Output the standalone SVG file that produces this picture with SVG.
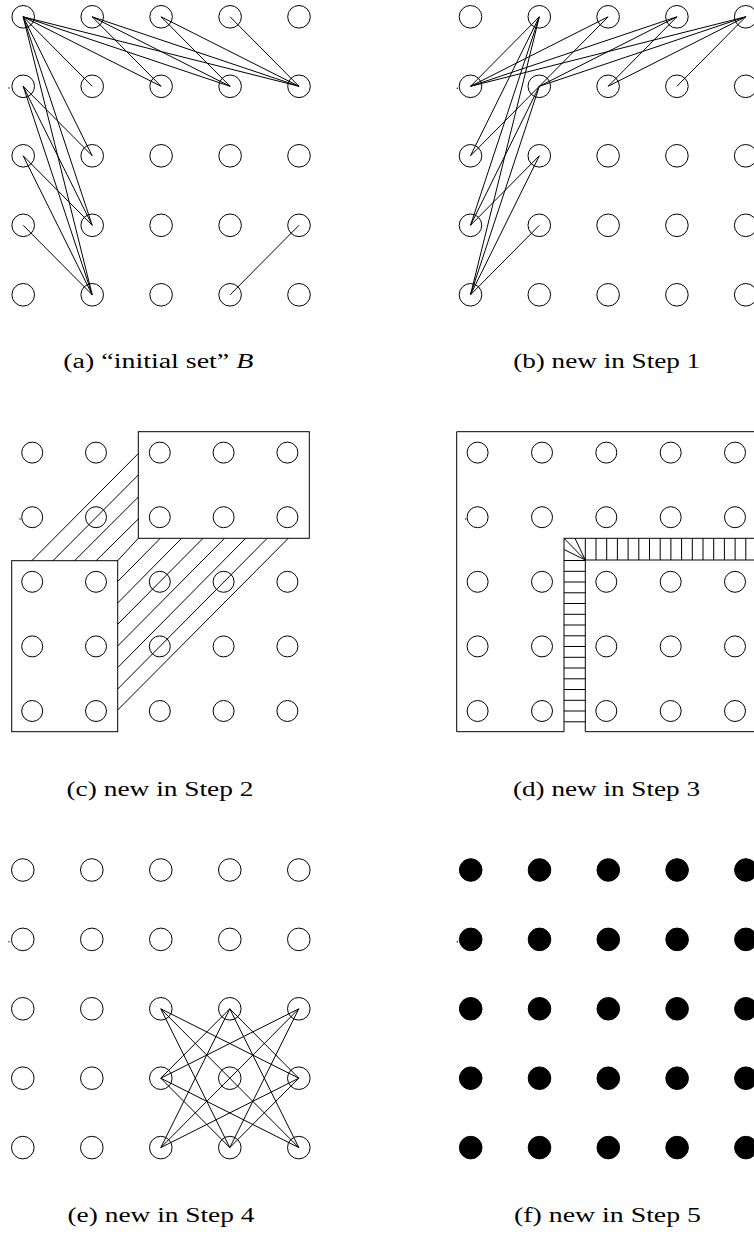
<svg xmlns="http://www.w3.org/2000/svg" width="754" height="1234" viewBox="0 0 754 1234">
<style>
.n{fill:none;stroke:#000;stroke-width:1}
.f{fill:#000;stroke:#000;stroke-width:1}
.e line,.e path,.e rect{stroke:#000;stroke-width:1;fill:none}
.cap{font-family:"Liberation Serif","Times New Roman",serif;font-size:20px;fill:#000}
</style>
<rect width="754" height="1234" fill="#fff"/>
<!-- connectors -->
<g id="connectors" class="e">
 <g id="conn-a">
  <line x1="23.2" y1="16.8" x2="92.2" y2="86.3"/>
  <line x1="23.2" y1="16.8" x2="161.1" y2="86.3"/>
  <line x1="23.2" y1="16.8" x2="230.1" y2="86.3"/>
  <line x1="23.2" y1="16.8" x2="299" y2="86.3"/>
  <line x1="92.2" y1="16.8" x2="161.1" y2="86.3"/>
  <line x1="92.2" y1="16.8" x2="230.1" y2="86.3"/>
  <line x1="92.2" y1="16.8" x2="299" y2="86.3"/>
  <line x1="161.1" y1="16.8" x2="230.1" y2="86.3"/>
  <line x1="161.1" y1="16.8" x2="299" y2="86.3"/>
  <line x1="230.1" y1="16.8" x2="299" y2="86.3"/>
  <line x1="23.2" y1="16.8" x2="92.2" y2="155.8"/>
  <line x1="23.2" y1="16.8" x2="92.2" y2="225.3"/>
  <line x1="23.2" y1="16.8" x2="92.2" y2="294.8"/>
  <line x1="23.2" y1="86.3" x2="92.2" y2="155.8"/>
  <line x1="23.2" y1="86.3" x2="92.2" y2="225.3"/>
  <line x1="23.2" y1="86.3" x2="92.2" y2="294.8"/>
  <line x1="23.2" y1="155.8" x2="92.2" y2="225.3"/>
  <line x1="23.2" y1="155.8" x2="92.2" y2="294.8"/>
  <line x1="23.2" y1="225.3" x2="92.2" y2="294.8"/>
  <line x1="299" y1="225.3" x2="230.1" y2="294.8"/>
 </g>
 <g id="conn-b">
  <line x1="539.3" y1="16.8" x2="470.5" y2="86.3"/>
  <line x1="608.1" y1="16.8" x2="470.5" y2="86.3"/>
  <line x1="608.1" y1="16.8" x2="539.3" y2="86.3"/>
  <line x1="676.9" y1="16.8" x2="470.5" y2="86.3"/>
  <line x1="676.9" y1="16.8" x2="539.3" y2="86.3"/>
  <line x1="676.9" y1="16.8" x2="608.1" y2="86.3"/>
  <line x1="745.7" y1="16.8" x2="470.5" y2="86.3"/>
  <line x1="745.7" y1="16.8" x2="539.3" y2="86.3"/>
  <line x1="745.7" y1="16.8" x2="608.1" y2="86.3"/>
  <line x1="745.7" y1="16.8" x2="676.9" y2="86.3"/>
  <line x1="539.3" y1="16.8" x2="470.5" y2="155.8"/>
  <line x1="539.3" y1="16.8" x2="470.5" y2="225.3"/>
  <line x1="539.3" y1="16.8" x2="470.5" y2="294.8"/>
  <line x1="539.3" y1="86.3" x2="470.5" y2="155.8"/>
  <line x1="539.3" y1="86.3" x2="470.5" y2="225.3"/>
  <line x1="539.3" y1="86.3" x2="470.5" y2="294.8"/>
  <line x1="539.3" y1="155.8" x2="470.5" y2="225.3"/>
  <line x1="539.3" y1="155.8" x2="470.5" y2="294.8"/>
  <line x1="539.3" y1="225.3" x2="470.5" y2="294.8"/>
 </g>
 <g id="conn-c">
  <rect x="138.3" y="431.7" width="171" height="106.6"/>
  <rect x="11.7" y="560.7" width="106" height="171"/>
  <line x1="31.8" y1="560.7" x2="138.3" y2="453.5"/>
  <line x1="53" y1="560.7" x2="138.3" y2="475"/>
  <line x1="74.6" y1="560.7" x2="138.3" y2="497"/>
  <line x1="96.1" y1="560.7" x2="138.3" y2="519"/>
  <line x1="117.7" y1="560.7" x2="138.3" y2="538.3"/>
  <line x1="117.7" y1="581.5" x2="160.3" y2="538.3"/>
  <line x1="117.7" y1="603" x2="181.6" y2="538.3"/>
  <line x1="117.7" y1="624.3" x2="203" y2="538.3"/>
  <line x1="117.7" y1="646" x2="224.5" y2="538.3"/>
  <line x1="117.7" y1="667.6" x2="245.7" y2="538.3"/>
  <line x1="117.7" y1="689" x2="267.2" y2="538.3"/>
  <line x1="117.7" y1="710" x2="288.3" y2="538.3"/>
 </g>
 <g id="conn-d">
  <path d="M760 431.7H456.7V731.7H564V538.3H760"/>
  <path d="M760 560H585.3V731.7H760"/>
  <line x1="585.3" y1="560" x2="564" y2="538.3"/>
  <line x1="585.3" y1="560" x2="575" y2="538.3"/>
  <line x1="585.3" y1="560" x2="564" y2="549.5"/>
  <line x1="585.3" y1="538.3" x2="585.3" y2="560"/>
  <line x1="596" y1="538.3" x2="596" y2="560"/>
  <line x1="606.7" y1="538.3" x2="606.7" y2="560"/>
  <line x1="617.4" y1="538.3" x2="617.4" y2="560"/>
  <line x1="628.1" y1="538.3" x2="628.1" y2="560"/>
  <line x1="638.8" y1="538.3" x2="638.8" y2="560"/>
  <line x1="649.5" y1="538.3" x2="649.5" y2="560"/>
  <line x1="660.2" y1="538.3" x2="660.2" y2="560"/>
  <line x1="670.9" y1="538.3" x2="670.9" y2="560"/>
  <line x1="681.6" y1="538.3" x2="681.6" y2="560"/>
  <line x1="692.3" y1="538.3" x2="692.3" y2="560"/>
  <line x1="703" y1="538.3" x2="703" y2="560"/>
  <line x1="713.7" y1="538.3" x2="713.7" y2="560"/>
  <line x1="724.4" y1="538.3" x2="724.4" y2="560"/>
  <line x1="735.1" y1="538.3" x2="735.1" y2="560"/>
  <line x1="745.8" y1="538.3" x2="745.8" y2="560"/>
  <line x1="564" y1="560.5" x2="585.3" y2="560.5"/>
  <line x1="564" y1="571.3" x2="585.3" y2="571.3"/>
  <line x1="564" y1="582" x2="585.3" y2="582"/>
  <line x1="564" y1="592.8" x2="585.3" y2="592.8"/>
  <line x1="564" y1="603.5" x2="585.3" y2="603.5"/>
  <line x1="564" y1="614.3" x2="585.3" y2="614.3"/>
  <line x1="564" y1="625" x2="585.3" y2="625"/>
  <line x1="564" y1="635.8" x2="585.3" y2="635.8"/>
  <line x1="564" y1="646.5" x2="585.3" y2="646.5"/>
  <line x1="564" y1="657.3" x2="585.3" y2="657.3"/>
  <line x1="564" y1="668" x2="585.3" y2="668"/>
  <line x1="564" y1="678.8" x2="585.3" y2="678.8"/>
  <line x1="564" y1="689.5" x2="585.3" y2="689.5"/>
  <line x1="564" y1="700.3" x2="585.3" y2="700.3"/>
  <line x1="564" y1="711" x2="585.3" y2="711"/>
  <line x1="564" y1="721.8" x2="585.3" y2="721.8"/>
 </g>
 <g id="conn-e">
  <line x1="160.8" y1="1008.8" x2="298.8" y2="1078.2"/>
  <line x1="160.8" y1="1008.8" x2="229.8" y2="1147.6"/>
  <line x1="298.8" y1="1008.8" x2="160.8" y2="1078.2"/>
  <line x1="298.8" y1="1008.8" x2="229.8" y2="1147.6"/>
  <line x1="160.8" y1="1147.6" x2="298.8" y2="1078.2"/>
  <line x1="160.8" y1="1147.6" x2="229.8" y2="1008.8"/>
  <line x1="298.8" y1="1147.6" x2="160.8" y2="1078.2"/>
  <line x1="298.8" y1="1147.6" x2="229.8" y2="1008.8"/>
  <line x1="229.8" y1="1008.8" x2="160.8" y2="1078.2"/>
  <line x1="229.8" y1="1008.8" x2="298.8" y2="1078.2"/>
  <line x1="160.8" y1="1078.2" x2="229.8" y2="1147.6"/>
  <line x1="298.8" y1="1078.2" x2="229.8" y2="1147.6"/>
  <line x1="160.8" y1="1008.8" x2="298.8" y2="1147.6"/>
  <line x1="298.8" y1="1008.8" x2="160.8" y2="1147.6"/>
 </g>
</g>
<!-- nodes panel a -->
<g id="panel-a">
 <g id="a00"><circle class="n" cx="23.2" cy="16.8" r="11.3"/></g>
 <g id="a10"><circle class="n" cx="92.2" cy="16.8" r="11.3"/></g>
 <g id="a20"><circle class="n" cx="161.1" cy="16.8" r="11.3"/></g>
 <g id="a30"><circle class="n" cx="230.1" cy="16.8" r="11.3"/></g>
 <g id="a40"><circle class="n" cx="299" cy="16.8" r="11.3"/></g>
 <g id="a01"><circle class="n" cx="23.2" cy="86.3" r="11.3"/></g>
 <g id="a11"><circle class="n" cx="92.2" cy="86.3" r="11.3"/></g>
 <g id="a21"><circle class="n" cx="161.1" cy="86.3" r="11.3"/></g>
 <g id="a31"><circle class="n" cx="230.1" cy="86.3" r="11.3"/></g>
 <g id="a41"><circle class="n" cx="299" cy="86.3" r="11.3"/></g>
 <g id="a02"><circle class="n" cx="23.2" cy="155.8" r="11.3"/></g>
 <g id="a12"><circle class="n" cx="92.2" cy="155.8" r="11.3"/></g>
 <g id="a22"><circle class="n" cx="161.1" cy="155.8" r="11.3"/></g>
 <g id="a32"><circle class="n" cx="230.1" cy="155.8" r="11.3"/></g>
 <g id="a42"><circle class="n" cx="299" cy="155.8" r="11.3"/></g>
 <g id="a03"><circle class="n" cx="23.2" cy="225.3" r="11.3"/></g>
 <g id="a13"><circle class="n" cx="92.2" cy="225.3" r="11.3"/></g>
 <g id="a23"><circle class="n" cx="161.1" cy="225.3" r="11.3"/></g>
 <g id="a33"><circle class="n" cx="230.1" cy="225.3" r="11.3"/></g>
 <g id="a43"><circle class="n" cx="299" cy="225.3" r="11.3"/></g>
 <g id="a04"><circle class="n" cx="23.2" cy="294.8" r="11.3"/></g>
 <g id="a14"><circle class="n" cx="92.2" cy="294.8" r="11.3"/></g>
 <g id="a24"><circle class="n" cx="161.1" cy="294.8" r="11.3"/></g>
 <g id="a34"><circle class="n" cx="230.1" cy="294.8" r="11.3"/></g>
 <g id="a44"><circle class="n" cx="299" cy="294.8" r="11.3"/></g>
</g>
<g id="panel-b">
 <g id="b00"><circle class="n" cx="470.5" cy="16.8" r="11.3"/></g>
 <g id="b10"><circle class="n" cx="539.3" cy="16.8" r="11.3"/></g>
 <g id="b20"><circle class="n" cx="608.1" cy="16.8" r="11.3"/></g>
 <g id="b30"><circle class="n" cx="676.9" cy="16.8" r="11.3"/></g>
 <g id="b40"><circle class="n" cx="745.7" cy="16.8" r="11.3"/></g>
 <g id="b01"><circle class="n" cx="470.5" cy="86.3" r="11.3"/></g>
 <g id="b11"><circle class="n" cx="539.3" cy="86.3" r="11.3"/></g>
 <g id="b21"><circle class="n" cx="608.1" cy="86.3" r="11.3"/></g>
 <g id="b31"><circle class="n" cx="676.9" cy="86.3" r="11.3"/></g>
 <g id="b41"><circle class="n" cx="745.7" cy="86.3" r="11.3"/></g>
 <g id="b02"><circle class="n" cx="470.5" cy="155.8" r="11.3"/></g>
 <g id="b12"><circle class="n" cx="539.3" cy="155.8" r="11.3"/></g>
 <g id="b22"><circle class="n" cx="608.1" cy="155.8" r="11.3"/></g>
 <g id="b32"><circle class="n" cx="676.9" cy="155.8" r="11.3"/></g>
 <g id="b42"><circle class="n" cx="745.7" cy="155.8" r="11.3"/></g>
 <g id="b03"><circle class="n" cx="470.5" cy="225.3" r="11.3"/></g>
 <g id="b13"><circle class="n" cx="539.3" cy="225.3" r="11.3"/></g>
 <g id="b23"><circle class="n" cx="608.1" cy="225.3" r="11.3"/></g>
 <g id="b33"><circle class="n" cx="676.9" cy="225.3" r="11.3"/></g>
 <g id="b43"><circle class="n" cx="745.7" cy="225.3" r="11.3"/></g>
 <g id="b04"><circle class="n" cx="470.5" cy="294.8" r="11.3"/></g>
 <g id="b14"><circle class="n" cx="539.3" cy="294.8" r="11.3"/></g>
 <g id="b24"><circle class="n" cx="608.1" cy="294.8" r="11.3"/></g>
 <g id="b34"><circle class="n" cx="676.9" cy="294.8" r="11.3"/></g>
 <g id="b44"><circle class="n" cx="745.7" cy="294.8" r="11.3"/></g>
</g>
<g id="panel-c">
 <g id="c00"><circle class="n" cx="32.2" cy="452.6" r="10.5"/></g>
 <g id="c10"><circle class="n" cx="96" cy="452.6" r="10.5"/></g>
 <g id="c20"><circle class="n" cx="159.8" cy="452.6" r="10.5"/></g>
 <g id="c30"><circle class="n" cx="223.6" cy="452.6" r="10.5"/></g>
 <g id="c40"><circle class="n" cx="287.4" cy="452.6" r="10.5"/></g>
 <g id="c01"><circle class="n" cx="32.2" cy="517.2" r="10.5"/></g>
 <g id="c11"><circle class="n" cx="96" cy="517.2" r="10.5"/></g>
 <g id="c21"><circle class="n" cx="159.8" cy="517.2" r="10.5"/></g>
 <g id="c31"><circle class="n" cx="223.6" cy="517.2" r="10.5"/></g>
 <g id="c41"><circle class="n" cx="287.4" cy="517.2" r="10.5"/></g>
 <g id="c02"><circle class="n" cx="32.2" cy="581.8" r="10.5"/></g>
 <g id="c12"><circle class="n" cx="96" cy="581.8" r="10.5"/></g>
 <g id="c22"><circle class="n" cx="159.8" cy="581.8" r="10.5"/></g>
 <g id="c32"><circle class="n" cx="223.6" cy="581.8" r="10.5"/></g>
 <g id="c42"><circle class="n" cx="287.4" cy="581.8" r="10.5"/></g>
 <g id="c03"><circle class="n" cx="32.2" cy="646.4" r="10.5"/></g>
 <g id="c13"><circle class="n" cx="96" cy="646.4" r="10.5"/></g>
 <g id="c23"><circle class="n" cx="159.8" cy="646.4" r="10.5"/></g>
 <g id="c33"><circle class="n" cx="223.6" cy="646.4" r="10.5"/></g>
 <g id="c43"><circle class="n" cx="287.4" cy="646.4" r="10.5"/></g>
 <g id="c04"><circle class="n" cx="32.2" cy="711" r="10.5"/></g>
 <g id="c14"><circle class="n" cx="96" cy="711" r="10.5"/></g>
 <g id="c24"><circle class="n" cx="159.8" cy="711" r="10.5"/></g>
 <g id="c34"><circle class="n" cx="223.6" cy="711" r="10.5"/></g>
 <g id="c44"><circle class="n" cx="287.4" cy="711" r="10.5"/></g>
</g>
<g id="panel-d">
 <g id="d00"><circle class="n" cx="477.6" cy="452.6" r="10.5"/></g>
 <g id="d10"><circle class="n" cx="542" cy="452.6" r="10.5"/></g>
 <g id="d20"><circle class="n" cx="606.3" cy="452.6" r="10.5"/></g>
 <g id="d30"><circle class="n" cx="670.7" cy="452.6" r="10.5"/></g>
 <g id="d40"><circle class="n" cx="735" cy="452.6" r="10.5"/></g>
 <g id="d01"><circle class="n" cx="477.6" cy="517.2" r="10.5"/></g>
 <g id="d11"><circle class="n" cx="542" cy="517.2" r="10.5"/></g>
 <g id="d21"><circle class="n" cx="606.3" cy="517.2" r="10.5"/></g>
 <g id="d31"><circle class="n" cx="670.7" cy="517.2" r="10.5"/></g>
 <g id="d41"><circle class="n" cx="735" cy="517.2" r="10.5"/></g>
 <g id="d02"><circle class="n" cx="477.6" cy="581.8" r="10.5"/></g>
 <g id="d12"><circle class="n" cx="542" cy="581.8" r="10.5"/></g>
 <g id="d22"><circle class="n" cx="606.3" cy="581.8" r="10.5"/></g>
 <g id="d32"><circle class="n" cx="670.7" cy="581.8" r="10.5"/></g>
 <g id="d42"><circle class="n" cx="735" cy="581.8" r="10.5"/></g>
 <g id="d03"><circle class="n" cx="477.6" cy="646.4" r="10.5"/></g>
 <g id="d13"><circle class="n" cx="542" cy="646.4" r="10.5"/></g>
 <g id="d23"><circle class="n" cx="606.3" cy="646.4" r="10.5"/></g>
 <g id="d33"><circle class="n" cx="670.7" cy="646.4" r="10.5"/></g>
 <g id="d43"><circle class="n" cx="735" cy="646.4" r="10.5"/></g>
 <g id="d04"><circle class="n" cx="477.6" cy="711" r="10.5"/></g>
 <g id="d14"><circle class="n" cx="542" cy="711" r="10.5"/></g>
 <g id="d24"><circle class="n" cx="606.3" cy="711" r="10.5"/></g>
 <g id="d34"><circle class="n" cx="670.7" cy="711" r="10.5"/></g>
 <g id="d44"><circle class="n" cx="735" cy="711" r="10.5"/></g>
</g>
<g id="panel-e">
 <g id="e00"><circle class="n" cx="22.8" cy="870" r="11.3"/></g>
 <g id="e10"><circle class="n" cx="91.8" cy="870" r="11.3"/></g>
 <g id="e20"><circle class="n" cx="160.8" cy="870" r="11.3"/></g>
 <g id="e30"><circle class="n" cx="229.8" cy="870" r="11.3"/></g>
 <g id="e40"><circle class="n" cx="298.8" cy="870" r="11.3"/></g>
 <g id="e01"><circle class="n" cx="22.8" cy="939.4" r="11.3"/></g>
 <g id="e11"><circle class="n" cx="91.8" cy="939.4" r="11.3"/></g>
 <g id="e21"><circle class="n" cx="160.8" cy="939.4" r="11.3"/></g>
 <g id="e31"><circle class="n" cx="229.8" cy="939.4" r="11.3"/></g>
 <g id="e41"><circle class="n" cx="298.8" cy="939.4" r="11.3"/></g>
 <g id="e02"><circle class="n" cx="22.8" cy="1008.8" r="11.3"/></g>
 <g id="e12"><circle class="n" cx="91.8" cy="1008.8" r="11.3"/></g>
 <g id="e22"><circle class="n" cx="160.8" cy="1008.8" r="11.3"/></g>
 <g id="e32"><circle class="n" cx="229.8" cy="1008.8" r="11.3"/></g>
 <g id="e42"><circle class="n" cx="298.8" cy="1008.8" r="11.3"/></g>
 <g id="e03"><circle class="n" cx="22.8" cy="1078.2" r="11.3"/></g>
 <g id="e13"><circle class="n" cx="91.8" cy="1078.2" r="11.3"/></g>
 <g id="e23"><circle class="n" cx="160.8" cy="1078.2" r="11.3"/></g>
 <g id="e33"><circle class="n" cx="229.8" cy="1078.2" r="11.3"/></g>
 <g id="e43"><circle class="n" cx="298.8" cy="1078.2" r="11.3"/></g>
 <g id="e04"><circle class="n" cx="22.8" cy="1147.6" r="11.3"/></g>
 <g id="e14"><circle class="n" cx="91.8" cy="1147.6" r="11.3"/></g>
 <g id="e24"><circle class="n" cx="160.8" cy="1147.6" r="11.3"/></g>
 <g id="e34"><circle class="n" cx="229.8" cy="1147.6" r="11.3"/></g>
 <g id="e44"><circle class="n" cx="298.8" cy="1147.6" r="11.3"/></g>
</g>
<g id="panel-f">
 <g id="f00"><circle class="f" cx="470.7" cy="870" r="11.3"/></g>
 <g id="f10"><circle class="f" cx="539.5" cy="870" r="11.3"/></g>
 <g id="f20"><circle class="f" cx="608.3" cy="870" r="11.3"/></g>
 <g id="f30"><circle class="f" cx="677.1" cy="870" r="11.3"/></g>
 <g id="f40"><circle class="f" cx="745.9" cy="870" r="11.3"/></g>
 <g id="f01"><circle class="f" cx="470.7" cy="939.4" r="11.3"/></g>
 <g id="f11"><circle class="f" cx="539.5" cy="939.4" r="11.3"/></g>
 <g id="f21"><circle class="f" cx="608.3" cy="939.4" r="11.3"/></g>
 <g id="f31"><circle class="f" cx="677.1" cy="939.4" r="11.3"/></g>
 <g id="f41"><circle class="f" cx="745.9" cy="939.4" r="11.3"/></g>
 <g id="f02"><circle class="f" cx="470.7" cy="1008.8" r="11.3"/></g>
 <g id="f12"><circle class="f" cx="539.5" cy="1008.8" r="11.3"/></g>
 <g id="f22"><circle class="f" cx="608.3" cy="1008.8" r="11.3"/></g>
 <g id="f32"><circle class="f" cx="677.1" cy="1008.8" r="11.3"/></g>
 <g id="f42"><circle class="f" cx="745.9" cy="1008.8" r="11.3"/></g>
 <g id="f03"><circle class="f" cx="470.7" cy="1078.2" r="11.3"/></g>
 <g id="f13"><circle class="f" cx="539.5" cy="1078.2" r="11.3"/></g>
 <g id="f23"><circle class="f" cx="608.3" cy="1078.2" r="11.3"/></g>
 <g id="f33"><circle class="f" cx="677.1" cy="1078.2" r="11.3"/></g>
 <g id="f43"><circle class="f" cx="745.9" cy="1078.2" r="11.3"/></g>
 <g id="f04"><circle class="f" cx="470.7" cy="1147.6" r="11.3"/></g>
 <g id="f14"><circle class="f" cx="539.5" cy="1147.6" r="11.3"/></g>
 <g id="f24"><circle class="f" cx="608.3" cy="1147.6" r="11.3"/></g>
 <g id="f34"><circle class="f" cx="677.1" cy="1147.6" r="11.3"/></g>
 <g id="f44"><circle class="f" cx="745.9" cy="1147.6" r="11.3"/></g>
</g>
<g id="marks" fill="#000">
 <circle cx="9" cy="88" r="0.7"/>
 <circle cx="457.3" cy="88.3" r="0.7"/>
 <circle cx="20" cy="519" r="0.7"/>
 <circle cx="465.7" cy="519" r="0.7"/>
 <circle cx="9" cy="941.7" r="0.7"/>
 <circle cx="457.3" cy="941.7" r="0.7"/>
</g>
<g id="captions" class="cap" text-anchor="middle">
 <text x="158.3" y="368" textLength="190" lengthAdjust="spacingAndGlyphs">(a)  “initial set”  <tspan font-style="italic">B</tspan></text>
 <text x="606.7" y="367.7" textLength="187" lengthAdjust="spacingAndGlyphs">(b)  new in Step 1</text>
 <text x="160" y="796" textLength="187" lengthAdjust="spacingAndGlyphs">(c)  new in Step 2</text>
 <text x="606.5" y="796" textLength="187" lengthAdjust="spacingAndGlyphs">(d)  new in Step 3</text>
 <text x="161" y="1222" textLength="187" lengthAdjust="spacingAndGlyphs">(e)  new in Step 4</text>
 <text x="607.5" y="1222" textLength="187" lengthAdjust="spacingAndGlyphs">(f)  new in Step 5</text>
</g>
</svg>
